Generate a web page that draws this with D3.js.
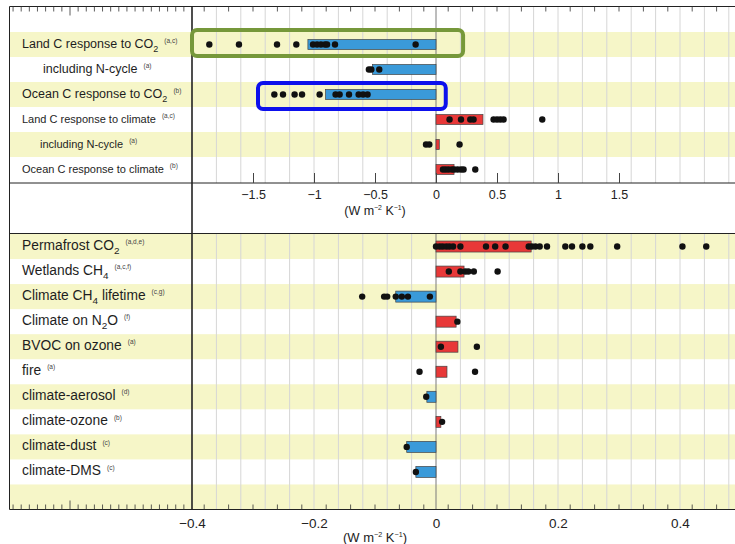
<!DOCTYPE html>
<html>
<head>
<meta charset="utf-8">
<script src="https://cdn.jsdelivr.net/npm/d3@7"></script>
<style>
  body { margin: 0; background: #fff; }
  svg { display: block; font-family: "Liberation Sans", Arial, Helvetica, sans-serif; }
</style>
</head>
<body>
<svg id="chart" width="735" height="544"></svg>
<script>
// Upper panel: carbon-cycle feedbacks (W m-2 K-1). "_n" marks a subscript.
const carbonLabels = [
  "Land C response to CO_2",
  "including N-cycle",
  "Ocean C response to CO_2",
  "Land C response to climate",
  "including N-cycle",
  "Ocean C response to climate"
];
const carbonNotes = ["(a,c)", "(a)", "(b)", "(a,c)", "(a)", "(b)"];
const carbonMeans = [-1.05, -0.52, -0.905, 0.385, 0.027, 0.148];
const carbonModels = [
  [-1.858, -1.615, -1.303, -1.145, -1.008, -0.975, -0.943, -0.91, -0.893, -0.828, -0.167],
  [-0.55, -0.53, -0.465],
  [-1.325, -1.254, -1.159, -1.098, -0.954, -0.823, -0.79, -0.713, -0.634, -0.598, -0.561],
  [0.111, 0.205, 0.281, 0.308, 0.472, 0.5, 0.527, 0.554, 0.871],
  [-0.082, -0.055, 0.193],
  [0.057, 0.079, 0.103, 0.131, 0.15, 0.177, 0.205, 0.226, 0.322]
];
const carbonTicks = [-1.5, -1, -0.5, 0, 0.5, 1, 1.5];

// Lower panel: other biogeochemical feedbacks (W m-2 K-1)
const otherLabels = [
  "Permafrost CO_2",
  "Wetlands CH_4",
  "Climate CH_4 lifetime",
  "Climate on N_2O",
  "BVOC on ozone",
  "fire",
  "climate-aerosol",
  "climate-ozone",
  "climate-dust",
  "climate-DMS"
];
const otherNotes = ["(a,d,e)", "(a,c,f)", "(c,g)", "(f)", "(a)", "(a)", "(d)", "(b)", "(c)", "(c)"];
const otherMeans = [0.156, 0.046, -0.066, 0.033, 0.036, 0.018, -0.015, 0.008, -0.048, -0.033];
const otherModels = [
  [0, 0.006, 0.011, 0.017, 0.022, 0.028, 0.04, 0.082, 0.097, 0.114, 0.152, 0.157, 0.163, 0.17, 0.182, 0.212, 0.223, 0.24, 0.253, 0.297, 0.404, 0.443],
  [0.021, 0.04, 0.048, 0.053, 0.062, 0.101],
  [-0.121, -0.085, -0.08, -0.066, -0.056, -0.046, -0.01],
  [0.035],
  [0.008, 0.067],
  [-0.027, 0.064],
  [-0.016],
  [0.01],
  [-0.048],
  [-0.033]
];
const otherTicks = [-0.4, -0.2, 0, 0.2, 0.4];

const svg = d3.select("#chart");
const FONT = "\"Liberation Sans\", Arial, Helvetica, sans-serif";

const frameL = 9.5, frameR = 745, frameT = 6.5, frameB = 509.5;
const axisX = 192;
const topAxisY = 183, botTopY = 233.5;

const COLORS = { band: "#f6f6c8", grid: "#d6d6d6", neg: "#3a9ad9", pos: "#e83838", line: "#222" };

// scales
const xTop = d3.scaleLinear().domain([-2, 2.5]).range([axisX, axisX + 4.5 * 122]);
const xBot = d3.scaleLinear().domain([-0.4, 0.5]).range([axisX, axisX + 0.9 * 610]);
const yTop = d3.scaleBand().domain(d3.range(carbonLabels.length)).range([32, 182]);
const botRows = d3.range(otherLabels.length + 1); // trailing empty row
const yBot = d3.scaleBand().domain(botRows).range([234, frameB]);

// alternate shaded rows
svg.append("g").selectAll("rect")
  .data(yTop.domain().filter(i => i % 2 === 0))
  .join("rect")
  .attr("x", frameL).attr("width", frameR - frameL)
  .attr("y", i => yTop(i)).attr("height", yTop.bandwidth())
  .attr("fill", COLORS.band);
svg.append("g").selectAll("rect")
  .data(botRows.filter(i => i % 2 === 0))
  .join("rect")
  .attr("x", frameL).attr("width", frameR - frameL)
  .attr("y", i => yBot(i)).attr("height", yBot.bandwidth())
  .attr("fill", COLORS.band);

// vertical grid
const gridVals = d3.range(-9, 13).map(k => k * 0.2).filter(v => Math.abs(v) > 1e-9);
svg.append("g").selectAll("line")
  .data(gridVals)
  .join("line")
  .attr("x1", d => xTop(d)).attr("x2", d => xTop(d))
  .attr("y1", frameT).attr("y2", topAxisY)
  .attr("stroke", COLORS.grid).attr("stroke-width", 1);
const gridValsBot = d3.range(-9, 13).map(k => k * 0.04).filter(v => Math.abs(v) > 1e-9);
svg.append("g").selectAll("line")
  .data(gridValsBot)
  .join("line")
  .attr("x1", d => xBot(d)).attr("x2", d => xBot(d))
  .attr("y1", botTopY).attr("y2", frameB)
  .attr("stroke", COLORS.grid).attr("stroke-width", 1);

// zero lines
svg.append("line").attr("x1", xTop(0)).attr("x2", xTop(0)).attr("y1", frameT).attr("y2", topAxisY)
  .attr("stroke", "#7a7a7a").attr("stroke-width", 1);
svg.append("line").attr("x1", xBot(0)).attr("x2", xBot(0)).attr("y1", botTopY).attr("y2", frameB)
  .attr("stroke", "#7a7a7a").attr("stroke-width", 1);

// bars and model dots
function drawRows(means, models, x, y, barH) {
  const g = svg.append("g");
  g.selectAll("rect")
    .data(means)
    .join("rect")
    .attr("x", d => x(Math.min(0, d)))
    .attr("width", d => Math.abs(x(d) - x(0)))
    .attr("y", (d, i) => y(i) + y.bandwidth() / 2 - barH / 2)
    .attr("height", barH)
    .attr("fill", d => d < 0 ? COLORS.neg : COLORS.pos)
    .attr("stroke", "#444").attr("stroke-width", 0.7);
  models.forEach((vals, i) => {
    g.append("g").selectAll("circle")
      .data(vals)
      .join("circle")
      .attr("cx", d => x(d))
      .attr("cy", y(i) + y.bandwidth() / 2)
      .attr("r", 3.2)
      .attr("fill", "#111");
  });
}
drawRows(carbonMeans, carbonModels, xTop, yTop, 10);
drawRows(otherMeans, otherModels, xBot, yBot, 11);

// row labels with subscripts and note markers
function drawLabel(label, note, x, y, size) {
  const t = svg.append("text").attr("x", x).attr("y", y)
    .style("font-size", size + "px").attr("fill", "#1e1e1e");
  const sub = size * 0.3;
  let shift = 0;
  label.split(/(_\d)/).forEach(p => {
    if (!p) return;
    if (p[0] === "_") {
      t.append("tspan").attr("dy", sub - shift).style("font-size", (size * 0.72) + "px").text(p.slice(1));
      shift = sub;
    } else {
      t.append("tspan").attr("dy", -shift).text(p);
      shift = 0;
    }
  });
  t.append("tspan").attr("dx", 6).attr("dy", -size * 0.42 - shift)
    .style("font-size", "6.5px").attr("fill", "#444").text(note);
}
carbonLabels.forEach((lab, i) => {
  const big = i < 3;
  const size = big ? 12.5 : 11;
  const indent = lab.startsWith("including") ? (big ? 21 : 18) : 0;
  drawLabel(lab, carbonNotes[i], 22 + indent, yTop(i) + yTop.bandwidth() / 2 + 3.5, size);
});
otherLabels.forEach((lab, i) => {
  drawLabel(lab, otherNotes[i], 22, yBot(i) + yBot.bandwidth() / 2 + 3.5, 13.8);
});

// frame
const frame = svg.append("g").attr("stroke", COLORS.line).attr("fill", "none");
frame.append("line").attr("x1", frameL).attr("x2", frameL).attr("y1", frameT).attr("y2", frameB).attr("stroke-width", 1);
frame.append("line").attr("x1", frameL).attr("x2", frameR).attr("y1", frameT).attr("y2", frameT).attr("stroke-width", 1);
frame.append("line").attr("x1", frameL).attr("x2", frameR).attr("y1", frameB).attr("y2", frameB).attr("stroke-width", 1);
frame.append("line").attr("x1", frameL).attr("x2", frameR).attr("y1", topAxisY).attr("y2", topAxisY).attr("stroke-width", 1);
frame.append("line").attr("x1", frameL).attr("x2", frameR).attr("y1", botTopY).attr("y2", botTopY).attr("stroke-width", 1);
frame.append("line").attr("x1", axisX).attr("x2", axisX).attr("y1", frameT).attr("y2", frameB).attr("stroke-width", 1.6);

// small frame ticks along the top and bottom edges
const frameTicks = d3.range(0, 23).map(k => -0.38 + k * 0.04);
const labelTicks = d3.range(1, 23).map(k => -0.4 - k * 0.04 / 3);
[[frameT, 1], [frameB, -1]].forEach(([yy, dir]) => {
  svg.append("g").selectAll("line")
    .data(frameTicks)
    .join("line")
    .attr("x1", d => xBot(d)).attr("x2", d => xBot(d))
    .attr("y1", yy).attr("y2", yy + dir * 5)
    .attr("stroke", "#333").attr("stroke-width", 0.8);
  svg.append("g").selectAll("line")
    .data(labelTicks)
    .join("line")
    .attr("x1", d => xBot(d)).attr("x2", d => xBot(d))
    .attr("y1", yy).attr("y2", (d, i) => yy + dir * (i === 14 ? 9 : 5))
    .attr("stroke", "#333").attr("stroke-width", 0.8);
});

// axes
const fmt = d3.format("~g");
const topAxis = svg.append("g").attr("transform", `translate(0,${topAxisY})`)
  .call(d3.axisBottom(xTop).tickValues(carbonTicks).tickFormat(fmt).tickSize(-10).tickPadding(7));
topAxis.select(".domain").remove();
topAxis.selectAll("line").attr("stroke", "#444");
topAxis.selectAll("text").attr("fill", "#222").style("font-size", "12.5px").style("font-family", FONT);

const botAxis = svg.append("g").attr("transform", `translate(0,${frameB})`)
  .call(d3.axisBottom(xBot).tickValues(otherTicks).tickFormat(fmt).tickSize(0).tickPadding(9));
botAxis.select(".domain").remove();
botAxis.selectAll("text").attr("fill", "#222").style("font-size", "13.5px").style("font-family", FONT);

// unit labels
function unitLabel(x, y, size) {
  const t = svg.append("text").attr("x", x).attr("y", y).attr("text-anchor", "middle")
    .style("font-size", size + "px").attr("fill", "#222");
  const s = size * 0.55, up = size * 0.4;
  t.append("tspan").text("(W m");
  t.append("tspan").attr("dy", -up).style("font-size", s + "px").text("−2");
  t.append("tspan").attr("dy", up).text(" K");
  t.append("tspan").attr("dy", -up).style("font-size", s + "px").text("−1");
  t.append("tspan").attr("dy", up).text(")");
}
unitLabel(xTop(-0.5), 215, 12.5);
unitLabel(xBot(-0.1), 542, 13);

// highlight boxes
svg.append("rect")
  .attr("x", xTop(-2)).attr("width", xTop(0.222) - xTop(-2))
  .attr("y", yTop(0) - 2).attr("height", yTop.bandwidth() + 1)
  .attr("rx", 5).attr("fill", "none").attr("stroke", "#76983a").attr("stroke-width", 4);
svg.append("rect")
  .attr("x", xTop(-1.459)).attr("width", xTop(0.08) - xTop(-1.459))
  .attr("y", yTop(2) + 1).attr("height", yTop.bandwidth() + 1)
  .attr("rx", 5).attr("fill", "none").attr("stroke", "#0d10ec").attr("stroke-width", 4);
</script>
</body>
</html>
